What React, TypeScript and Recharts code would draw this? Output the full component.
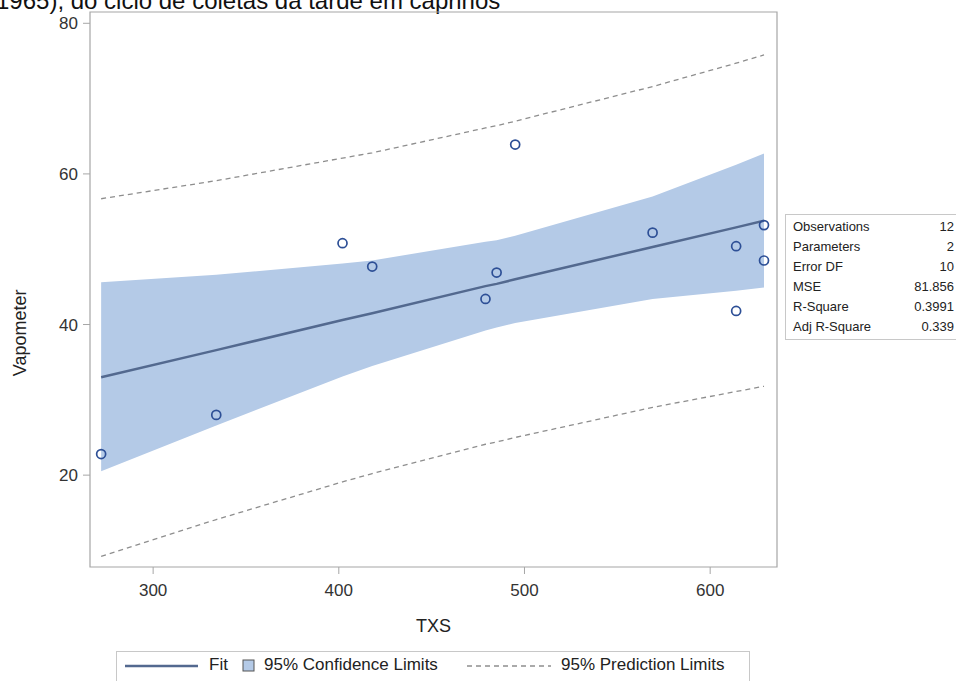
import {
  ComposedChart,
  Area,
  Line,
  Scatter,
  XAxis,
  YAxis,
  ReferenceArea,
} from 'recharts';

// observations
const obsTXS = [272, 334, 402, 418, 479, 485, 495, 569, 614, 614, 629, 629];
const obsVap = [22.8, 28.0, 50.8, 47.7, 43.4, 46.9, 63.9, 52.2, 50.4, 41.8, 53.2, 48.5];

// fit, confidence band and prediction limits at the observed TXS values
const curveTXS = [272, 334, 402, 418, 479, 485, 495, 569, 614, 629];
const fitVap = [33.0, 36.6, 40.6, 41.5, 45.1, 45.4, 46.0, 50.3, 52.9, 53.8];
const clLower = [20.5, 26.6, 33.1, 34.5, 39.2, 39.6, 40.2, 43.4, 44.5, 44.9];
const clUpper = [45.6, 46.6, 48.1, 48.5, 51.0, 51.2, 51.8, 57.0, 61.2, 62.7];
const plLower = [9.2, 14.1, 19.1, 20.2, 24.1, 24.4, 25.0, 29.0, 31.1, 31.8];
const plUpper = [56.7, 59.1, 62.1, 62.8, 66.1, 66.4, 67.0, 71.6, 74.7, 75.8];

const xTicks = [300, 400, 500, 600];
const yTicks = [20, 40, 60, 80];

const statLabels = ['Observations', 'Parameters', 'Error DF', 'MSE', 'R-Square', 'Adj R-Square'];
const statValues = ['12', '2', '10', '81.856', '0.3991', '0.339'];

const curve = curveTXS.map((x, i) => ({
  x,
  fit: fitVap[i],
  cl: [clLower[i], clUpper[i]],
  plLow: plLower[i],
  plHigh: plUpper[i],
}));
const points = obsTXS.map((x, i) => ({ x, y: obsVap[i] }));

const FONT = '"Liberation Sans", Arial, sans-serif';
const BAND = '#b4cae7';
const FIT = '#53698f';
const DOT = '#2d4f96';
const DASH = '#8e8e8e';
const FRAME = '#a6a6a6';

function StatsTable() {
  return (
    <div
      style={{
        position: 'absolute',
        left: 785,
        top: 214,
        width: 200,
        border: '1px solid #c8c8c8',
        background: '#fff',
        fontSize: 13,
        color: '#222',
        padding: '2px 0',
      }}
    >
      {statLabels.map((label, i) => (
        <div key={label} style={{ position: 'relative', height: 20, lineHeight: '20px' }}>
          <span style={{ position: 'absolute', left: 7 }}>{label}</span>
          <span style={{ position: 'absolute', right: 32 }}>{statValues[i]}</span>
        </div>
      ))}
    </div>
  );
}

function LegendBox() {
  return (
    <div
      style={{
        position: 'absolute',
        left: 116,
        top: 651,
        width: 632,
        height: 40,
        border: '1px solid #c8c8c8',
        fontSize: 17,
        color: '#222',
      }}
    >
      <svg width={632} height={30} style={{ position: 'absolute', left: 0, top: 0 }}>
        <line x1={8} x2={81} y1={14} y2={14} stroke={FIT} strokeWidth={2.5} />
        <rect x={126} y={8} width={11} height={11} fill={BAND} stroke="#555" strokeWidth={1} />
        <line x1={350} x2={434} y1={14} y2={14} stroke={DASH} strokeWidth={1.3} strokeDasharray="5 4" />
      </svg>
      <span style={{ position: 'absolute', left: 92, top: 3 }}>Fit</span>
      <span style={{ position: 'absolute', left: 147, top: 3 }}>95% Confidence Limits</span>
      <span style={{ position: 'absolute', left: 444, top: 3 }}>95% Prediction Limits</span>
    </div>
  );
}

export default function App() {
  return (
    <div
      style={{
        position: 'fixed',
        left: 0,
        top: 0,
        width: 956,
        height: 681,
        overflow: 'hidden',
        background: '#fff',
        fontFamily: FONT,
      }}
    >
      <div
        style={{
          position: 'absolute',
          left: -4,
          top: -11,
          fontSize: 24,
          lineHeight: '24px',
          color: '#111',
          whiteSpace: 'nowrap',
        }}
      >
        1965), do ciclo de coletas da tarde em caprinos
      </div>

      <div style={{ position: 'absolute', left: 0, top: 0 }}>
        <ComposedChart
          width={956}
          height={681}
          data={curve}
          margin={{ top: 12, right: 179, bottom: 84, left: 30 }}
        >
          <XAxis
            dataKey="x"
            type="number"
            domain={[266, 636]}
            ticks={xTicks}
            allowDataOverflow
            height={30}
            axisLine={false}
            tickLine={{ stroke: FRAME }}
            tickSize={7}
            tickMargin={10}
            tick={{ fontSize: 17, fill: '#333', fontFamily: FONT }}
            label={{ value: 'TXS', position: 'bottom', offset: 22, fontSize: 18, fill: '#222', fontFamily: FONT }}
          />
          <YAxis
            type="number"
            domain={[7.8, 81.5]}
            ticks={yTicks}
            allowDataOverflow
            width={60}
            axisLine={false}
            tickLine={{ stroke: FRAME }}
            tickSize={7}
            tickMargin={5}
            tick={{ fontSize: 17, fill: '#333', fontFamily: FONT }}
            label={{
              value: 'Vapometer',
              angle: -90,
              position: 'left',
              offset: 10,
              fontSize: 18,
              fill: '#222',
              fontFamily: FONT,
            }}
          />
          <Area
            dataKey="cl"
            type="linear"
            stroke="none"
            fill={BAND}
            fillOpacity={1}
            isAnimationActive={false}
          />
          <Line
            dataKey="plHigh"
            type="linear"
            stroke={DASH}
            strokeWidth={1.3}
            strokeDasharray="5 4"
            dot={false}
            isAnimationActive={false}
          />
          <Line
            dataKey="plLow"
            type="linear"
            stroke={DASH}
            strokeWidth={1.3}
            strokeDasharray="5 4"
            dot={false}
            isAnimationActive={false}
          />
          <Line
            dataKey="fit"
            type="linear"
            stroke={FIT}
            strokeWidth={2.5}
            dot={false}
            isAnimationActive={false}
          />
          <Scatter
            data={points}
            dataKey="y"
            shape={(p: any) => (
              <circle cx={p.cx} cy={p.cy} r={4.5} fill="none" stroke={DOT} strokeWidth={1.7} />
            )}
            isAnimationActive={false}
          />
          <ReferenceArea
            x1={266}
            x2={636}
            y1={7.8}
            y2={81.5}
            fill="none"
            stroke={FRAME}
            strokeWidth={1.2}
            ifOverflow="visible"
          />
        </ComposedChart>
      </div>

      <StatsTable />
      <LegendBox />
    </div>
  );
}
